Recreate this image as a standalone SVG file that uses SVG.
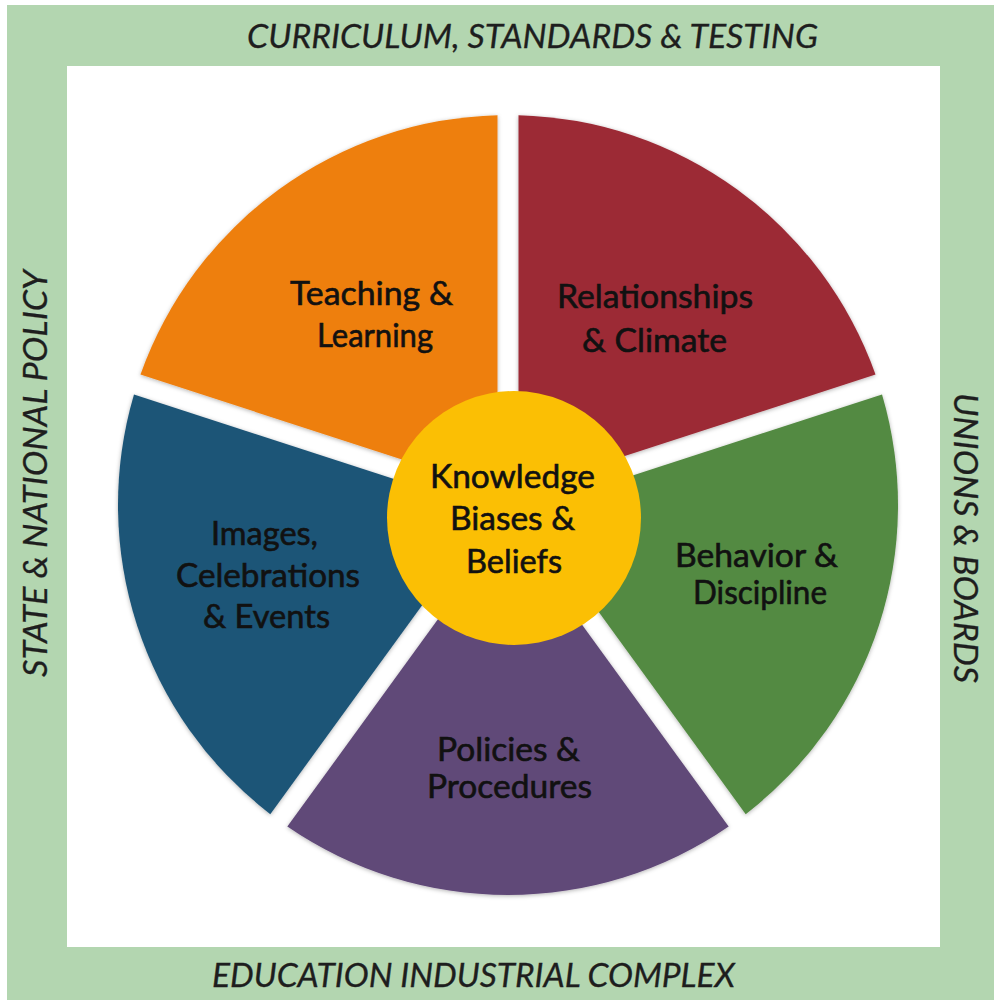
<svg xmlns="http://www.w3.org/2000/svg" width="994" height="1000" viewBox="0 0 994 1000">
  <defs>
    <style>
      .frame-label { font-family: Lato, "Liberation Sans", sans-serif; font-style: italic; font-size: 32px; fill: #1e1e1e; stroke: #1e1e1e; stroke-width: 0.3px; }
      .seg-label { font-family: Lato, "Liberation Sans", sans-serif; font-size: 32px; fill: #111111; stroke: #111111; stroke-width: 0.6px; }
      .seg { filter: url(#soft); }
    </style>
    <filter id="soft" x="-10%" y="-10%" width="120%" height="120%">
      <feDropShadow dx="0" dy="1" stdDeviation="2" flood-color="#000" flood-opacity="0.3"/>
    </filter>
  </defs>

  <!-- outer frame and inner panel -->
  <rect x="0" y="0" width="994" height="1000" fill="#ffffff"/>
  <rect x="7" y="5" width="987" height="995" fill="#b3d6b0"/>
  <rect x="67" y="66" width="873" height="881" fill="#ffffff"/>

  <!-- frame labels -->
  <text class="frame-label" x="247" y="48" textLength="571" lengthAdjust="spacingAndGlyphs">CURRICULUM, STANDARDS &amp; TESTING</text>
  <text class="frame-label" x="212" y="987" textLength="523" lengthAdjust="spacingAndGlyphs">EDUCATION INDUSTRIAL COMPLEX</text>
  <text class="frame-label" transform="translate(47,677) rotate(-90)" x="0" y="0" textLength="407" lengthAdjust="spacingAndGlyphs">STATE &amp; NATIONAL POLICY</text>
  <text class="frame-label" transform="translate(954,393) rotate(90)" x="0" y="0" textLength="290" lengthAdjust="spacingAndGlyphs">UNIONS &amp; BOARDS</text>

  <!-- wheel segments -->
  <g id="relationships-climate">
    <path class="seg" d="M518.5,490.55 L518.5,115.14 A390,390 0 0 1 875.53,374.54 Z" fill="#9c2a36"/>
    <text class="seg-label" x="557" y="308" textLength="196" lengthAdjust="spacingAndGlyphs">Relationships</text>
    <text class="seg-label" x="582" y="352" textLength="145" lengthAdjust="spacingAndGlyphs">&amp; Climate</text>
  </g>

  <g id="behavior-discipline">
    <path class="seg" d="M524.99,510.52 L882.02,394.51 A390,390 0 0 1 745.71,814.18 Z" fill="#538a42"/>
    <text class="seg-label" x="675" y="567" textLength="163" lengthAdjust="spacingAndGlyphs">Behavior &amp;</text>
    <text class="seg-label" x="693" y="604" textLength="134" lengthAdjust="spacingAndGlyphs">Discipline</text>
  </g>

  <g id="policies-procedures">
    <path class="seg" d="M508,522.86 L728.66,826.57 A390,390 0 0 1 287.34,826.57 Z" fill="#604878"/>
    <text class="seg-label" x="437" y="761" textLength="143" lengthAdjust="spacingAndGlyphs">Policies &amp;</text>
    <text class="seg-label" x="427" y="798" textLength="165" lengthAdjust="spacingAndGlyphs">Procedures</text>
  </g>

  <g id="images-celebrations-events">
    <path class="seg" d="M491.01,510.52 L270.29,814.18 A390,390 0 0 1 133.98,394.51 Z" fill="#1e5577"/>
    <text class="seg-label" x="211" y="545" textLength="107" lengthAdjust="spacingAndGlyphs">Images,</text>
    <text class="seg-label" x="176" y="587" textLength="184" lengthAdjust="spacingAndGlyphs">Celebrations</text>
    <text class="seg-label" x="203" y="628" textLength="127" lengthAdjust="spacingAndGlyphs">&amp; Events</text>
  </g>

  <g id="teaching-learning">
    <path class="seg" d="M497.5,490.55 L140.47,374.54 A390,390 0 0 1 497.5,115.14 Z" fill="#ee7f0f"/>
    <text class="seg-label" x="290" y="305" textLength="163" lengthAdjust="spacingAndGlyphs">Teaching &amp;</text>
    <text class="seg-label" x="317" y="347" textLength="116" lengthAdjust="spacingAndGlyphs">Learning</text>
  </g>

  <!-- core -->
  <g id="knowledge-biases-beliefs">
    <circle cx="514" cy="518" r="127" fill="#fbbf04"/>
    <text class="seg-label" x="430" y="488" textLength="165" lengthAdjust="spacingAndGlyphs">Knowledge</text>
    <text class="seg-label" x="450" y="530" textLength="125" lengthAdjust="spacingAndGlyphs">Biases &amp;</text>
    <text class="seg-label" x="466" y="573" textLength="96" lengthAdjust="spacingAndGlyphs">Beliefs</text>
  </g>
</svg>
